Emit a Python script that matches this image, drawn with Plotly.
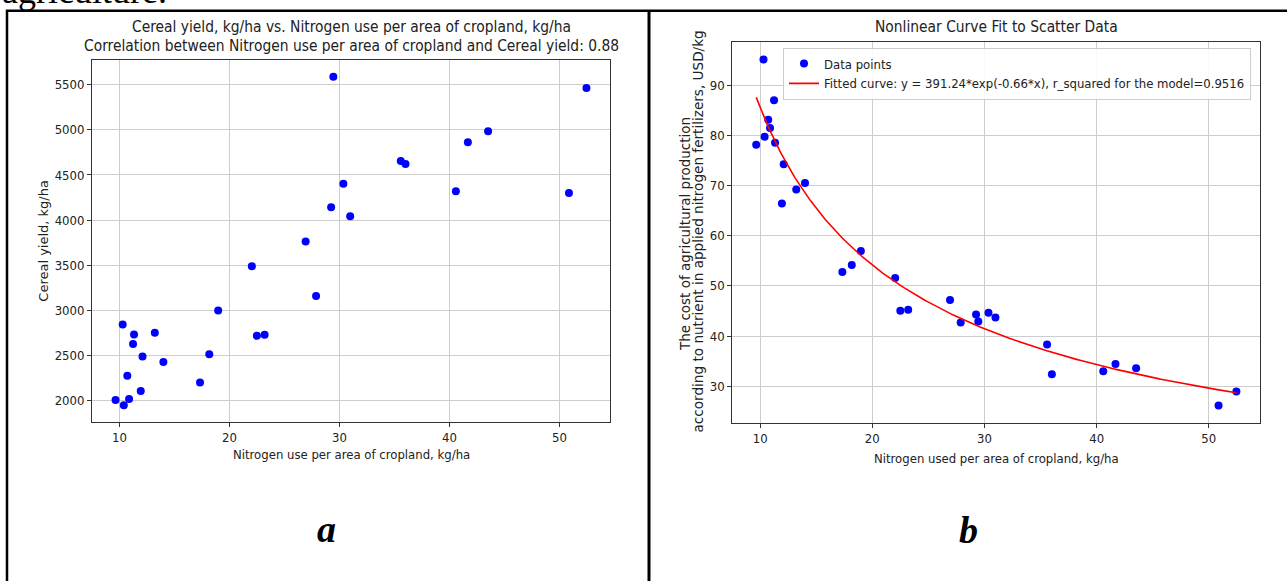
import numpy as np
import plotly.graph_objects as go

# ---------------- data ----------------
nitrogen = [9.65, 10.30, 10.40, 10.72, 10.88, 11.24, 11.33, 11.94, 12.10, 13.22,
            14.00, 17.33, 18.17, 18.98, 22.04, 22.50, 23.20, 26.93, 27.88, 29.25,
            29.45, 30.36, 30.98, 35.58, 36.01, 40.59, 41.68, 43.52, 50.87, 52.46]
cereal_yield = [2003, 2842, 1945, 2273, 2014, 2624, 2731, 2103, 2487, 2750,
                2425, 2199, 2510, 2997, 3488, 2716, 2727, 3762, 3158, 4142,
                5590, 4404, 4042, 4656, 4623, 4319, 4862, 4984, 4301, 5465]
cost_usd = [78.19, 95.17, 79.78, 83.17, 81.50, 87.08, 78.59, 66.45, 74.28, 69.24,
            70.56, 52.78, 54.18, 56.97, 51.59, 45.02, 45.22, 47.21, 42.69, 44.29,
            42.89, 44.62, 43.69, 38.31, 32.39, 32.99, 34.39, 33.59, 26.15, 28.94]
fit_a = 391.24
fit_b = -0.66
a_xticks = [10, 20, 30, 40, 50]
a_yticks = [2000, 2500, 3000, 3500, 4000, 4500, 5000, 5500]
b_xticks = [10, 20, 30, 40, 50]
b_yticks = [30, 40, 50, 60, 70, 80, 90]

W, H = 1287, 581
COND = "DejaVu Sans Condensed, DejaVu Sans"
REG = "DejaVu Sans"
SERIF = "Liberation Serif, Times New Roman, serif"


def px(p):
    return p / W


def py(p):
    return 1 - p / H


def padded(vals):
    lo, hi = min(vals), max(vals)
    s = hi - lo
    return [lo - 0.05 * s, hi + 0.05 * s]


curve_x = np.linspace(min(nitrogen), max(nitrogen), 300)
curve_y = fit_a * curve_x ** fit_b

fig = go.Figure()
fig.add_trace(go.Scatter(x=nitrogen, y=cereal_yield, mode="markers",
                         marker=dict(color="#0000ff", size=8, line=dict(width=0)),
                         xaxis="x", yaxis="y", showlegend=False))
fig.add_trace(go.Scatter(x=nitrogen, y=cost_usd, mode="markers", name="Data points",
                         marker=dict(color="#0000ff", size=8, line=dict(width=0)),
                         xaxis="x2", yaxis="y2"))
fig.add_trace(go.Scatter(x=curve_x, y=curve_y, mode="lines",
                         name="Fitted curve: y = 391.24*exp(-0.66*x), r_squared for the model=0.9516",
                         line=dict(color="#ff0000", width=1.6),
                         xaxis="x2", yaxis="y2"))

axis_style = dict(showline=True, mirror=True, linecolor="#333333", linewidth=1,
                  showgrid=True, gridcolor="#cdcdcd", gridwidth=1,
                  ticks="outside", ticklen=4, tickcolor="#333333", zeroline=False,
                  tickfont=dict(family=COND, size=13, color="#222222"))

fig.update_layout(
    width=W, height=H, autosize=False,
    margin=dict(l=0, r=0, t=0, b=0),
    paper_bgcolor="white", plot_bgcolor="white",
    xaxis=dict(domain=[px(92), px(610)], anchor="y", range=padded(nitrogen),
               tickvals=a_xticks, **axis_style),
    yaxis=dict(domain=[py(421.7), py(60.3)], anchor="x", range=padded(cereal_yield),
               tickvals=a_yticks, **axis_style),
    xaxis2=dict(domain=[px(732.2), px(1260.4)], anchor="y2", range=padded(nitrogen),
                tickvals=b_xticks, **axis_style),
    yaxis2=dict(domain=[py(422.7), py(42.3)], anchor="x2", range=padded(cost_usd),
                tickvals=b_yticks, **axis_style),
    legend=dict(x=px(783), y=py(47.5), xanchor="left", yanchor="top",
                bgcolor="rgba(255,255,255,0.85)", bordercolor="#cccccc", borderwidth=1,
                font=dict(family=COND, size=13, color="#222222"),
                tracegroupgap=2, itemwidth=30),
)

ann = []


def text(x, y, s, size, family=COND, angle=0, xanchor="center", yanchor="middle", color="#222222"):
    ann.append(dict(x=px(x), y=py(y), xref="paper", yref="paper", text=s, showarrow=False,
                    font=dict(family=family, size=size, color=color), textangle=angle,
                    xanchor=xanchor, yanchor=yanchor))


text(351, 26.7, "Cereal yield, kg/ha vs. Nitrogen use per area of cropland, kg/ha", 15.4)
text(351, 46, "Correlation between Nitrogen use per area of cropland and Cereal yield: 0.88", 15.4)
text(351, 454.5, "Nitrogen use per area of cropland, kg/ha", 13)
text(42.7, 241, "Cereal yield, kg/ha", 13, family=REG, angle=-90)
text(996, 26.7, "Nonlinear Curve Fit to Scatter Data", 15.4)
text(996, 458.3, "Nitrogen used per area of cropland, kg/ha", 13)
text(685, 234, "The cost of agricultural production", 13.5, family=REG, angle=-90)
text(697.5, 232, "according to nutrient in applied nitrogen fertilizers, USD/kg", 13.6, family=REG, angle=-90)
text(326.5, 529, "<b><i>a</i></b>", 38, family=SERIF, color="black")
text(968, 530, "<b><i>b</i></b>", 38, family=SERIF, color="black")
text(0, 13, "agriculture.", 36, family=SERIF, xanchor="left", yanchor="bottom", color="black")
fig.update_layout(annotations=ann)

shapes = [
    dict(type="line", xref="paper", yref="paper", x0=px(6), x1=px(1287), y0=py(10.7), y1=py(10.7),
         line=dict(color="black", width=2.5)),
    dict(type="line", xref="paper", yref="paper", x0=px(7), x1=px(7), y0=py(10), y1=py(581),
         line=dict(color="black", width=2.5)),
    dict(type="line", xref="paper", yref="paper", x0=px(649), x1=px(649), y0=py(10), y1=py(581),
         line=dict(color="black", width=3)),
]
fig.update_layout(shapes=shapes)

fig.write_html("out.html", config={"displayModeBar": False},
               post_script="document.body.style.margin='0px';")
